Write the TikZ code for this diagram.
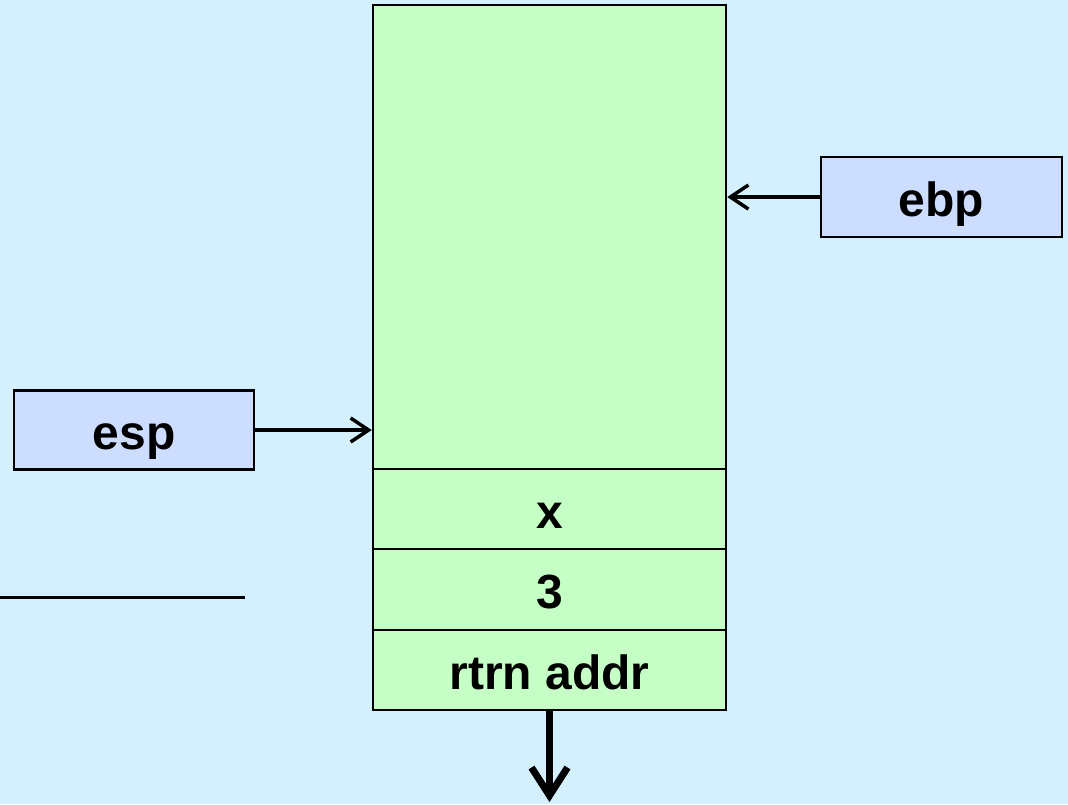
\documentclass[tikz,border=0pt]{standalone}
\usepackage{fontspec}
\setmainfont{Liberation Sans}
\usetikzlibrary{arrows.meta}
\definecolor{bg}{HTML}{D4F0FF}
\definecolor{slot}{HTML}{C6FFC6}
\definecolor{reg}{HTML}{CCDDFF}
\tikzset{
  label font/.style={font=\fontsize{48}{52}\selectfont\bfseries, text height=38pt, text depth=0pt},
  cell/.style={draw=black, line width=2.5pt, fill=slot, minimum width=353pt, inner sep=0pt, label font},
  regbox/.style={draw=black, line width=2.5pt, fill=reg, minimum width=240pt, minimum height=79pt,
    inner sep=0pt, label font},
  ptr/.style={line width=3.5pt, -{Straight Barb[length=18pt,width=24pt,line width=3.5pt]}},
  growarrow/.style={line width=7pt, -{Straight Barb[length=28pt,width=36pt,line width=7pt]}}
}
\begin{document}
\begin{tikzpicture}[x=1pt,y=-1pt]
  \fill[bg] (0,0) rectangle (1068,804);
  \useasboundingbox (0,0) rectangle (1068,804);

  % stack frame and its slots
  \node[cell, minimum height=464pt] (frame) at (549.5,237) {};
  \node[cell, minimum height=80pt] (xslot) at (549.5,509) {x};
  \node[cell, minimum height=81pt] (arg) at (549.5,589.5) {3};
  \node[cell, minimum height=80pt] (ret) at (549.5,670) {rtrn addr};

  % registers
  \node[regbox, minimum width=241pt, minimum height=80pt] (ebp) at (941.5,197) {ebp};
  \node[regbox] (esp) at (134,430) {esp};

  \draw[ptr] (ebp.west) -- (frame.east |- ebp.west);
  \draw[ptr] (esp.east) -- (frame.west |- esp.east);

  % stack growth direction
  \coordinate (down) at (549.5,802);
  \draw[growarrow] (ret.south) -- (down);

  % separator line
  \coordinate (sepL) at (0,597);
  \coordinate (sepR) at (245,597);
  \draw[line width=3pt] (sepL) -- (sepR);
\end{tikzpicture}
\end{document}
